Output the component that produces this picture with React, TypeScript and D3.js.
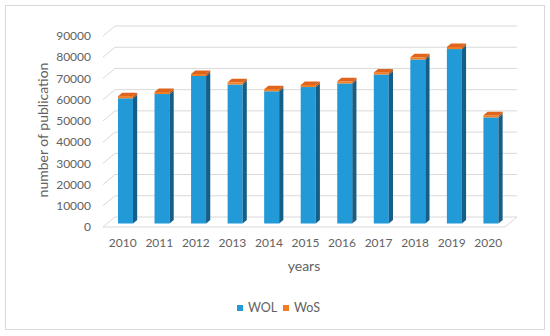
import React, { useRef, useEffect } from "react";
import * as d3 from "d3";

const years = ["2010", "2011", "2012", "2013", "2014", "2015", "2016", "2017", "2018", "2019", "2020"];
const wolValues = [59000, 61000, 69500, 65500, 62300, 64300, 66000, 70200, 77300, 82200, 50000];
const wosValues = [1000, 1000, 1000, 1000, 1000, 1000, 1000, 1000, 1000, 1000, 1000];
const yTicks = [0, 10000, 20000, 30000, 40000, 50000, 60000, 70000, 80000, 90000];
const seriesNames = ["WOL", "WoS"];

const FONT = "Lato, 'Open Sans', sans-serif";
const TEXT = "#626262";
const GRID = "#D9D9D9";

const App = () => {
  const ref = useRef<SVGSVGElement | null>(null);

  useEffect(() => {
    document.body.style.margin = "0";
    if (!ref.current) return;
    const svg = d3.select(ref.current);
    svg.selectAll("*").remove();

    const width = 550;
    const height = 336;

    // frame
    svg.append("rect").attr("width", width).attr("height", height).attr("fill", "#fff");
    svg
      .append("rect")
      .attr("x", 5.5)
      .attr("y", 5.5)
      .attr("width", 539)
      .attr("height", 324)
      .attr("fill", "none")
      .attr("stroke", GRID);

    const x = d3.scaleBand<string>().domain(years).range([103, 505]);
    const y = d3.scaleLinear().domain([0, 90000]).range([227, 36]);

    // depth of the 3D box (front -> back wall)
    const backDx = 12;
    const backDy = -10;
    const depth = (t: number) => [backDx * t, backDy * t];

    const g = svg.append("g");

    // back wall gridlines + left diagonal ticks
    yTicks.forEach((v) => {
      const yy = y(v);
      g.append("line")
        .attr("x1", 103)
        .attr("y1", yy)
        .attr("x2", 103 + backDx)
        .attr("y2", yy + backDy)
        .attr("stroke", GRID);
      g.append("line")
        .attr("x1", 103 + backDx)
        .attr("y1", yy + backDy)
        .attr("x2", 505 + backDx)
        .attr("y2", yy + backDy)
        .attr("stroke", GRID);
    });
    // floor front edge
    g.append("line")
      .attr("x1", 103)
      .attr("y1", y(0))
      .attr("x2", 505)
      .attr("y2", y(0))
      .attr("stroke", GRID);
    g.append("line")
      .attr("x1", 505)
      .attr("y1", y(0))
      .attr("x2", 505 + backDx)
      .attr("y2", y(0) + backDy)
      .attr("stroke", GRID);

    // y tick labels
    g.selectAll(".ytick")
      .data(yTicks)
      .enter()
      .append("text")
      .attr("x", 91)
      .attr("y", (d) => y(d))
      .attr("dy", "0.35em")
      .attr("text-anchor", "end")
      .attr("font-family", FONT)
      .attr("font-size", 12)
      .attr("fill", TEXT)
      .text((d) => d);

    // x labels
    g.selectAll(".xtick")
      .data(years)
      .enter()
      .append("text")
      .attr("x", (d) => (x(d) || 0) + x.bandwidth() / 2 + 1.5)
      .attr("y", 243)
      .attr("dy", "0.35em")
      .attr("text-anchor", "middle")
      .attr("font-family", FONT)
      .attr("font-size", 12)
      .attr("fill", TEXT)
      .text((d) => d);

    // bars
    const barW = 15;
    const [fdx, fdy] = depth(0.35);
    const [bdx, bdy] = depth(0.7);
    const sdx = bdx - fdx;
    const sdy = bdy - fdy;

    const drawBox = (x0: number, yBottom: number, yTop: number, front: string, side: string, top: string | null) => {
      const x1 = x0 + barW;
      g.append("rect")
        .attr("x", x0)
        .attr("y", yTop)
        .attr("width", barW)
        .attr("height", Math.max(0, yBottom - yTop))
        .attr("fill", front);
      g.append("path")
        .attr(
          "d",
          `M${x1},${yTop}L${x1 + sdx},${yTop + sdy}L${x1 + sdx},${yBottom + sdy}L${x1},${yBottom}Z`
        )
        .attr("fill", side);
      if (top) {
        g.append("path")
          .attr(
            "d",
            `M${x0},${yTop}L${x1},${yTop}L${x1 + sdx},${yTop + sdy}L${x0 + sdx},${yTop + sdy}Z`
          )
          .attr("fill", top);
      }
    };

    years.forEach((yr, i) => {
      const cx = (x(yr) || 0) + x.bandwidth() / 2 + fdx;
      const x0 = cx - barW / 2;
      const wol = wolValues[i];
      const tot = wol + wosValues[i];
      drawBox(x0, y(0) + fdy, y(wol) + fdy, "#229AD8", "#155E87", null);
      drawBox(x0, y(wol) + fdy, y(tot) + fdy, "#F27E22", "#B8581A", "#E0641C");
    });

    // axis titles
    svg
      .append("text")
      .attr("transform", "translate(43,130) rotate(-90)")
      .attr("text-anchor", "middle")
      .attr("dy", "0.35em")
      .attr("font-family", FONT)
      .attr("font-size", 14)
      .attr("fill", TEXT)
      .text("number of publication");

    svg
      .append("text")
      .attr("x", 304)
      .attr("y", 266)
      .attr("dy", "0.35em")
      .attr("text-anchor", "middle")
      .attr("font-family", FONT)
      .attr("font-size", 14)
      .attr("fill", TEXT)
      .text("years");

    // legend
    const legendColors = ["#229AD8", "#F27E22"];
    const legendX = [237, 283];
    seriesNames.forEach((name, i) => {
      svg
        .append("rect")
        .attr("x", legendX[i])
        .attr("y", 305)
        .attr("width", 6)
        .attr("height", 6)
        .attr("fill", legendColors[i]);
      svg
        .append("text")
        .attr("x", legendX[i] + 11)
        .attr("y", 308)
        .attr("dy", "0.35em")
        .attr("font-family", FONT)
        .attr("font-size", 12.5)
        .attr("fill", TEXT)
        .text(name);
    });
  }, []);

  return <svg ref={ref} width={550} height={336} style={{ display: "block" }} />;
};

export default App;
